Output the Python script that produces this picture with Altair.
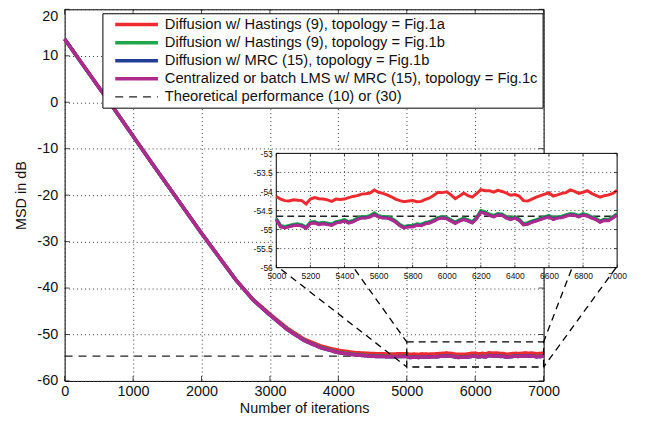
import altair as alt
import pandas as pd

FONT = "Liberation Sans"
FS = 14.5
LFS = 14.8

SERIES = [
    "Diffusion w/ Hastings (9), topology = Fig.1a",
    "Diffusion w/ Hastings (9), topology = Fig.1b",
    "Diffusion w/ MRC (15), topology = Fig.1b",
    "Centralized or batch LMS w/ MRC (15), topology = Fig.1c",
    "Theoretical performance (10) or (30)",
]
COLORS = ["#EE2A2F", "#22A64A", "#233E96", "#B02A8E", "#222222"]
DASHES = [[1, 0], [1, 0], [1, 0], [1, 0], [8, 6]]
WIDTHS = [3.5, 3.5, 3.5, 3.5, 1.3]

X_TICKS = [0, 1000, 2000, 3000, 4000, 5000, 6000, 7000]
Y_TICKS = [-60, -50, -40, -30, -20, -10, 0, 10, 20]
IN_X_TICKS = [5000, 5200, 5400, 5600, 5800, 6000, 6200, 6400, 6600, 6800, 7000]
IN_Y_TICKS = [-56, -55.5, -55, -54.5, -54, -53.5, -53]
IN_X_GRID = [5200, 5400, 5600, 5800, 6000, 6200, 6400, 6600, 6800]
IN_Y_GRID = [-55.5, -55, -54.5, -54, -53.5]
IN_X_DOM = [5000, 7000]
IN_Y_DOM = [-56, -53]

# transient part (iterations 0..4750)
IT_TR = [0, 250, 500, 750, 1000, 1250, 1500, 1750, 2000, 2250,
         2500, 2750, 3000, 3250, 3500, 3750, 4000, 4250, 4500, 4750]
RED_TR = [13.6, 8.4, 3.2, -2.0, -7.3, -12.6, -17.8, -23.0, -28.2, -33.2,
          -38.2, -42.4, -45.6, -48.6, -51.0, -52.5, -53.4, -53.9, -54.1, -54.2]
GRN_TR = [13.6, 8.4, 3.2, -2.0, -7.3, -12.6, -17.8, -23.0, -28.2, -33.2,
          -38.2, -42.5, -45.8, -48.8, -51.2, -52.8, -53.8, -54.3, -54.6, -54.75]
BLU_TR = [13.6, 8.4, 3.2, -2.0, -7.3, -12.6, -17.8, -23.0, -28.2, -33.2,
          -38.2, -42.5, -45.8, -48.9, -51.3, -52.9, -53.9, -54.4, -54.7, -54.8]
MAG_TR = [13.6, 8.4, 3.2, -2.0, -7.3, -12.6, -17.8, -23.0, -28.2, -33.2,
          -38.2, -42.5, -45.8, -48.9, -51.3, -52.9, -53.9, -54.4, -54.7, -54.8]

# steady state (iterations 5000..7000, step 25)
IT_SS = list(range(5000, 7001, 25))
RED_SS = [-54.13, -54.20, -54.24, -54.25, -54.22, -54.23, -54.24, -54.33, -54.20, -54.16,
          -54.19, -54.20, -54.22, -54.26, -54.20, -54.21, -54.20, -54.16, -54.13, -54.11,
          -54.07, -54.06, -54.04, -53.96, -54.02, -54.05, -54.09, -54.14, -54.20, -54.24,
          -54.27, -54.25, -54.24, -54.27, -54.26, -54.21, -54.17, -54.10, -54.02, -54.03,
          -54.01, -54.09, -54.19, -54.12, -54.04, -54.11, -54.15, -54.06, -53.95, -53.98,
          -53.98, -54.02, -53.97, -54.00, -54.04, -54.10, -54.08, -54.12, -54.24, -54.25,
          -54.20, -54.15, -54.11, -54.07, -54.04, -54.12, -54.09, -54.05, -54.03, -53.96,
          -54.00, -54.05, -54.02, -53.98, -54.05, -54.10, -54.15, -54.11, -54.09, -54.05,
          -53.97]
GRN_SS = [-54.70, -54.89, -54.92, -54.89, -54.86, -54.85, -54.87, -54.93, -54.80, -54.79,
          -54.83, -54.81, -54.83, -54.85, -54.79, -54.77, -54.74, -54.79, -54.76, -54.70,
          -54.66, -54.66, -54.63, -54.56, -54.63, -54.66, -54.66, -54.70, -54.77, -54.86,
          -54.92, -54.89, -54.89, -54.85, -54.86, -54.81, -54.79, -54.74, -54.68, -54.66,
          -54.68, -54.74, -54.80, -54.74, -54.70, -54.74, -54.79, -54.68, -54.50, -54.53,
          -54.59, -54.63, -54.58, -54.59, -54.66, -54.70, -54.66, -54.72, -54.84, -54.82,
          -54.77, -54.74, -54.70, -54.66, -54.63, -54.70, -54.66, -54.65, -54.61, -54.58,
          -54.59, -54.63, -54.58, -54.61, -54.66, -54.70, -54.77, -54.72, -54.73, -54.66,
          -54.58]
BLU_SS = [-54.73, -54.92, -54.95, -54.92, -54.89, -54.88, -54.90, -54.96, -54.83, -54.82,
          -54.86, -54.84, -54.86, -54.88, -54.82, -54.80, -54.77, -54.82, -54.79, -54.73,
          -54.69, -54.69, -54.66, -54.60, -54.66, -54.69, -54.69, -54.73, -54.80, -54.89,
          -54.95, -54.92, -54.92, -54.88, -54.89, -54.84, -54.82, -54.77, -54.71, -54.69,
          -54.71, -54.77, -54.83, -54.77, -54.73, -54.77, -54.82, -54.71, -54.54, -54.57,
          -54.62, -54.66, -54.61, -54.62, -54.69, -54.73, -54.69, -54.75, -54.87, -54.85,
          -54.80, -54.77, -54.73, -54.69, -54.66, -54.73, -54.69, -54.68, -54.64, -54.61,
          -54.62, -54.66, -54.61, -54.64, -54.69, -54.73, -54.80, -54.75, -54.76, -54.69,
          -54.61]
MAG_SS = [-54.74, -54.93, -54.96, -54.93, -54.90, -54.89, -54.91, -54.97, -54.84, -54.83,
          -54.87, -54.85, -54.87, -54.89, -54.83, -54.81, -54.78, -54.83, -54.80, -54.74,
          -54.70, -54.70, -54.67, -54.61, -54.67, -54.70, -54.70, -54.74, -54.81, -54.90,
          -54.96, -54.93, -54.93, -54.89, -54.90, -54.85, -54.83, -54.78, -54.72, -54.70,
          -54.72, -54.78, -54.84, -54.78, -54.74, -54.78, -54.83, -54.72, -54.55, -54.58,
          -54.63, -54.67, -54.62, -54.63, -54.70, -54.74, -54.70, -54.76, -54.88, -54.86,
          -54.81, -54.78, -54.74, -54.70, -54.67, -54.74, -54.70, -54.69, -54.65, -54.62,
          -54.63, -54.67, -54.62, -54.65, -54.70, -54.74, -54.81, -54.76, -54.77, -54.70,
          -54.62]

THEORY = -54.65
THEORY_X = [0, 7000]

# zoom box and connector annotation (main-plot data coordinates)
ZOOM_X = [5000, 7000]
ZOOM_Y = [-51.6, -57.0]
CONN_X = [3166, 4241, 7407, 8060]
CONN_Y = [-36.0, -36.0, -36.0, -35.6]
CONN_X2 = [5000, 5000, 7000, 7000]
CONN_Y2 = [-57.0, -51.6, -51.6, -57.0]

W, H = 482, 374
IN_XR = [213, 556]
IN_YR = [260, 145]


def x_main(field):
    return alt.X(field, type="quantitative",
                 scale=alt.Scale(domain=[0, 7000], nice=False, zero=False),
                 axis=alt.Axis(values=X_TICKS, title="Number of iterations", grid=True,
                               gridDash=[1, 3], gridColor="#3a3a3a", domain=False, ticks=False,
                               labelPadding=4, labelFont=FONT, labelFontSize=FS, labelColor="#111",
                               labelFlush=False, labelExpr="'' + datum.value",
                               titleFont=FONT, titleFontSize=FS, titleFontWeight="normal",
                               titleColor="#111", titlePadding=3))


def y_main(field):
    return alt.Y(field, type="quantitative",
                 scale=alt.Scale(domain=[-60, 20], nice=False, zero=False),
                 axis=alt.Axis(values=Y_TICKS, title="MSD in dB", grid=True,
                               gridDash=[1, 3], gridColor="#3a3a3a", domain=False, ticks=False,
                               labelPadding=7, labelFont=FONT, labelFontSize=FS, labelColor="#111",
                               labelExpr="'' + datum.value",
                               labelBaseline={"condition": {"test": "datum.value == 20", "value": "top"},
                                              "value": "middle"},
                               titleFont=FONT, titleFontSize=FS, titleFontWeight="normal",
                               titleColor="#111", titlePadding=8))


def x_in(field):
    return alt.X(field, type="quantitative",
                 scale=alt.Scale(domain=IN_X_DOM, range=IN_XR, nice=False, zero=False),
                 axis=alt.Axis(orient="bottom", offset=-(H - IN_YR[0]), values=IN_X_TICKS, title=None,
                               grid=False, domain=False, ticks=False, labelPadding=4,
                               labelFont=FONT, labelFontSize=8.5, labelColor="#111",
                               labelFlush=False, labelOverlap=False, labelExpr="'' + datum.value"))


def y_in(field):
    return alt.Y(field, type="quantitative",
                 scale=alt.Scale(domain=IN_Y_DOM, range=IN_YR, nice=False, zero=False),
                 axis=alt.Axis(orient="left", offset=-IN_XR[0], values=IN_Y_TICKS, title=None,
                               grid=False, domain=False, ticks=False, labelPadding=4,
                               labelFont=FONT, labelFontSize=8.5, labelColor="#111",
                               labelOverlap=False, labelExpr="'' + datum.value"))


LEG = dict(title=None, orient="none", legendX=38, legendY=4, strokeColor="black",
           fillColor="white", padding=4, labelFont=FONT, labelFontSize=LFS, labelColor="#111",
           labelLimit=600, symbolType="M-4.3,0H4.3", symbolSize=100, symbolOffset=23,
           labelOffset=21, rowPadding=2.2)

SERIES_DATA = [
    (RED_TR, RED_SS),
    (GRN_TR, GRN_SS),
    (BLU_TR, BLU_SS),
    (MAG_TR, MAG_SS),
]


def enc_series():
    return dict(
        color=alt.Color("s:N", scale=alt.Scale(domain=SERIES, range=COLORS), legend=alt.Legend(**LEG)),
        strokeDash=alt.StrokeDash("s:N", scale=alt.Scale(domain=SERIES, range=DASHES), legend=alt.Legend(**LEG)),
        strokeWidth=alt.StrokeWidth("s:N", scale=alt.Scale(type="ordinal", domain=SERIES, range=WIDTHS),
                                    legend=alt.Legend(**LEG)),
    )


# ---------------- main plot layers ----------------
main_layers = []
theory_df = pd.DataFrame({"it": THEORY_X, "v": [THEORY, THEORY], "s": SERIES[4]})
main_layers.append(alt.Chart(theory_df).mark_line().encode(x=x_main("it"), y=y_main("v"), **enc_series()))
for i, (tr, ss) in enumerate(SERIES_DATA):
    df = pd.DataFrame({"it": IT_TR + IT_SS, "v": tr + ss, "s": SERIES[i]})
    main_layers.append(alt.Chart(df).mark_line().encode(x=x_main("it"), y=y_main("v"), **enc_series()))

zoom_df = pd.DataFrame({"x": [ZOOM_X[0]], "x2": [ZOOM_X[1]], "y": [ZOOM_Y[0]], "y2": [ZOOM_Y[1]]})
main_layers.append(
    alt.Chart(zoom_df).mark_rect(fillOpacity=0, stroke="black", strokeDash=[7, 5], strokeWidth=1.3)
    .encode(x=x_main("x"), x2="x2", y=y_main("y"), y2="y2"))
conn_df = pd.DataFrame({"x": CONN_X, "y": CONN_Y, "x2": CONN_X2, "y2": CONN_Y2})
main_layers.append(
    alt.Chart(conn_df).mark_rule(stroke="black", strokeDash=[7, 5], strokeWidth=1.3)
    .encode(x=x_main("x"), x2="x2", y=y_main("y"), y2="y2"))

xt_df = pd.DataFrame({"t": X_TICKS})
yt_df = pd.DataFrame({"t": Y_TICKS})
main_layers.append(alt.Chart(xt_df).mark_tick(orient="vertical", size=5, thickness=1, color="black")
                   .encode(x=x_main("t"), y=alt.value(H - 2.5)))
main_layers.append(alt.Chart(xt_df).mark_tick(orient="vertical", size=5, thickness=1, color="black")
                   .encode(x=x_main("t"), y=alt.value(2.5)))
main_layers.append(alt.Chart(yt_df).mark_tick(orient="horizontal", size=5, thickness=1, color="black")
                   .encode(y=y_main("t"), x=alt.value(2.5)))
main_layers.append(alt.Chart(yt_df).mark_tick(orient="horizontal", size=5, thickness=1, color="black")
                   .encode(y=y_main("t"), x=alt.value(W - 2.5)))

main = alt.layer(*main_layers)

# ---------------- inset layers ----------------
inset_layers = []
box_df = pd.DataFrame({"x": [IN_X_DOM[0]], "x2": [IN_X_DOM[1]], "y": [IN_Y_DOM[0]], "y2": [IN_Y_DOM[1]]})
inset_layers.append(alt.Chart(box_df).mark_rect(fill="white", stroke="black", strokeWidth=1)
                    .encode(x=x_in("x"), x2="x2", y=y_in("y"), y2="y2"))
gx_df = pd.DataFrame({"x": IN_X_GRID, "y": IN_Y_DOM[0], "y2": IN_Y_DOM[1]})
inset_layers.append(alt.Chart(gx_df).mark_rule(stroke="#3a3a3a", strokeDash=[1, 3], strokeWidth=1)
                    .encode(x=x_in("x"), y=y_in("y"), y2="y2"))
gy_df = pd.DataFrame({"y": IN_Y_GRID, "x": IN_X_DOM[0], "x2": IN_X_DOM[1]})
inset_layers.append(alt.Chart(gy_df).mark_rule(stroke="#3a3a3a", strokeDash=[1, 3], strokeWidth=1)
                    .encode(y=y_in("y"), x=x_in("x"), x2="x2"))
th_in_df = pd.DataFrame({"it": IN_X_DOM, "v": [THEORY, THEORY]})
inset_layers.append(alt.Chart(th_in_df).mark_line(color=COLORS[4], strokeDash=[7, 4], strokeWidth=1.3)
                    .encode(x=x_in("it"), y=y_in("v")))
for i, (tr, ss) in enumerate(SERIES_DATA):
    df = pd.DataFrame({"it": IT_SS, "v": ss})
    inset_layers.append(alt.Chart(df).mark_line(color=COLORS[i], strokeWidth=3)
                        .encode(x=x_in("it"), y=y_in("v")))
ixt_df = pd.DataFrame({"t": IN_X_TICKS})
iyt_df = pd.DataFrame({"t": IN_Y_TICKS})
inset_layers.append(alt.Chart(ixt_df).mark_tick(orient="vertical", size=3, thickness=1, color="black")
                    .encode(x=x_in("t"), y=alt.value(IN_YR[0] - 1.5)))
inset_layers.append(alt.Chart(ixt_df).mark_tick(orient="vertical", size=3, thickness=1, color="black")
                    .encode(x=x_in("t"), y=alt.value(IN_YR[1] + 1.5)))
inset_layers.append(alt.Chart(iyt_df).mark_tick(orient="horizontal", size=3, thickness=1, color="black")
                    .encode(y=y_in("t"), x=alt.value(IN_XR[0] + 1.5)))
inset_layers.append(alt.Chart(iyt_df).mark_tick(orient="horizontal", size=3, thickness=1, color="black")
                    .encode(y=y_in("t"), x=alt.value(IN_XR[1] - 1.5)))

inset = alt.layer(*inset_layers)

chart = (
    alt.layer(main, inset)
    .resolve_scale(x="independent", y="independent")
    .properties(width=W, height=H, autosize=alt.AutoSizeParams(type="none"),
                padding={"left": 57, "top": 0, "right": 95, "bottom": 36})
    .configure_view(stroke="black", strokeWidth=1)
)

chart.save("out.html", embed_options={"renderer": "svg", "actions": False})
